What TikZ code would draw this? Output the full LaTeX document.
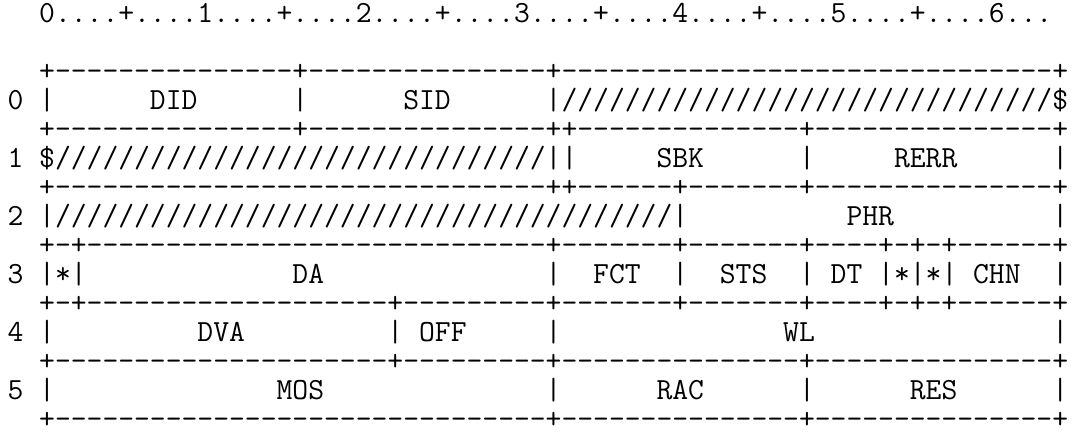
\documentclass[tikz,border=0pt]{standalone}
\usepackage{fontspec}
\usepackage{tikz}

% one column of the typewriter grid
\newlength{\colw}
\settowidth{\colw}{\ttfamily\fontsize{15.08pt}{14.5pt}\selectfont 0}
\pgfmathsetmacro{\asciisize}{15.08*7.915/\colw}
\newcommand{\asciifont}{\ttfamily\fontsize{\asciisize pt}{14.5pt}\selectfont}
\settowidth{\colw}{\asciifont 0}
% repeat a character
\newcommand{\rpt}[2]{\foreach \k in {1,...,#1}{#2}}

\begin{document}
\begin{tikzpicture}[x=\colw, y=-14.5pt,
    ascii/.style={font=\asciifont, inner sep=0pt, anchor=base west}]
    \useasboundingbox (0pt,0pt) rectangle (537.5pt,-217pt);
    \begin{scope}[shift={(3.56pt,-11pt)}]
        % Bit ruler
        \node[ascii] (ruler) at (2,0) {0....+....1....+....2....+....3....+....4....+....5....+....6...};

        % Word 0
        \node[ascii] (top) at (2,2) {+\rpt{15}{-}+\rpt{15}{-}+\rpt{31}{-}+};
        \node[ascii] (w0) at (0,3) {0};
        \node[ascii] (w0a) at (2,3) {|};
        \node[ascii] (did) at (9,3) {DID};
        \node[ascii] (w0b) at (18,3) {|};
        \node[ascii] (sid) at (25,3) {SID};
        \node[ascii] (pad0) at (34,3) {|\rpt{31}{/}\$};
        \node[ascii] (rule0) at (2,4) {+\rpt{15}{-}+\rpt{15}{-}++\rpt{14}{-}+\rpt{15}{-}+};

        % Word 1
        \node[ascii] (w1) at (0,5) {1};
        \node[ascii] (pad1) at (2,5) {\$\rpt{31}{/}||};
        \node[ascii] (sbk) at (41,5) {SBK};
        \node[ascii] (w1a) at (50,5) {|};
        \node[ascii] (rerr) at (56,5) {RERR};
        \node[ascii] (w1b) at (66,5) {|};
        \node[ascii] (rule1) at (2,6) {+\rpt{31}{-}++\rpt{6}{-}+\rpt{7}{-}+\rpt{15}{-}+};

        % Word 2
        \node[ascii] (w2) at (0,7) {2};
        \node[ascii] (pad2) at (2,7) {|\rpt{39}{/}|};
        \node[ascii] (phr) at (53,7) {PHR};
        \node[ascii] (w2a) at (66,7) {|};
        \node[ascii] (rule2) at (2,8) {+-+\rpt{29}{-}+\rpt{7}{-}+\rpt{7}{-}+\rpt{4}{-}+-+-+\rpt{6}{-}+};

        % Word 3
        \node[ascii] (w3) at (0,9) {3};
        \node[ascii] (flag3) at (2,9) {|*|};
        \node[ascii] (da) at (18,9) {DA};
        \node[ascii] (w3a) at (34,9) {|};
        \node[ascii] (fct) at (37,9) {FCT};
        \node[ascii] (w3b) at (42,9) {|};
        \node[ascii] (sts) at (45,9) {STS};
        \node[ascii] (w3c) at (50,9) {|};
        \node[ascii] (dt) at (52,9) {DT};
        \node[ascii] (flags3) at (55,9) {|*|*|};
        \node[ascii] (chn) at (61,9) {CHN};
        \node[ascii] (w3d) at (66,9) {|};
        \node[ascii] (rule3) at (2,10) {+-+\rpt{19}{-}+\rpt{9}{-}+\rpt{7}{-}+\rpt{7}{-}+\rpt{4}{-}+-+-+\rpt{6}{-}+};

        % Word 4
        \node[ascii] (w4) at (0,11) {4};
        \node[ascii] (w4a) at (2,11) {|};
        \node[ascii] (dva) at (12,11) {DVA};
        \node[ascii] (w4b) at (24,11) {|};
        \node[ascii] (off) at (26,11) {OFF};
        \node[ascii] (w4c) at (34,11) {|};
        \node[ascii] (wl) at (49,11) {WL};
        \node[ascii] (w4d) at (66,11) {|};
        \node[ascii] (rule4) at (2,12) {+\rpt{21}{-}+\rpt{9}{-}+\rpt{15}{-}+\rpt{15}{-}+};

        % Word 5
        \node[ascii] (w5) at (0,13) {5};
        \node[ascii] (w5a) at (2,13) {|};
        \node[ascii] (mos) at (17,13) {MOS};
        \node[ascii] (w5b) at (34,13) {|};
        \node[ascii] (rac) at (41,13) {RAC};
        \node[ascii] (w5c) at (50,13) {|};
        \node[ascii] (res) at (57,13) {RES};
        \node[ascii] (w5d) at (66,13) {|};
        \node[ascii] (bottom) at (2,14) {+\rpt{31}{-}+\rpt{15}{-}+\rpt{15}{-}+};
    \end{scope}
\end{tikzpicture}
\end{document}
